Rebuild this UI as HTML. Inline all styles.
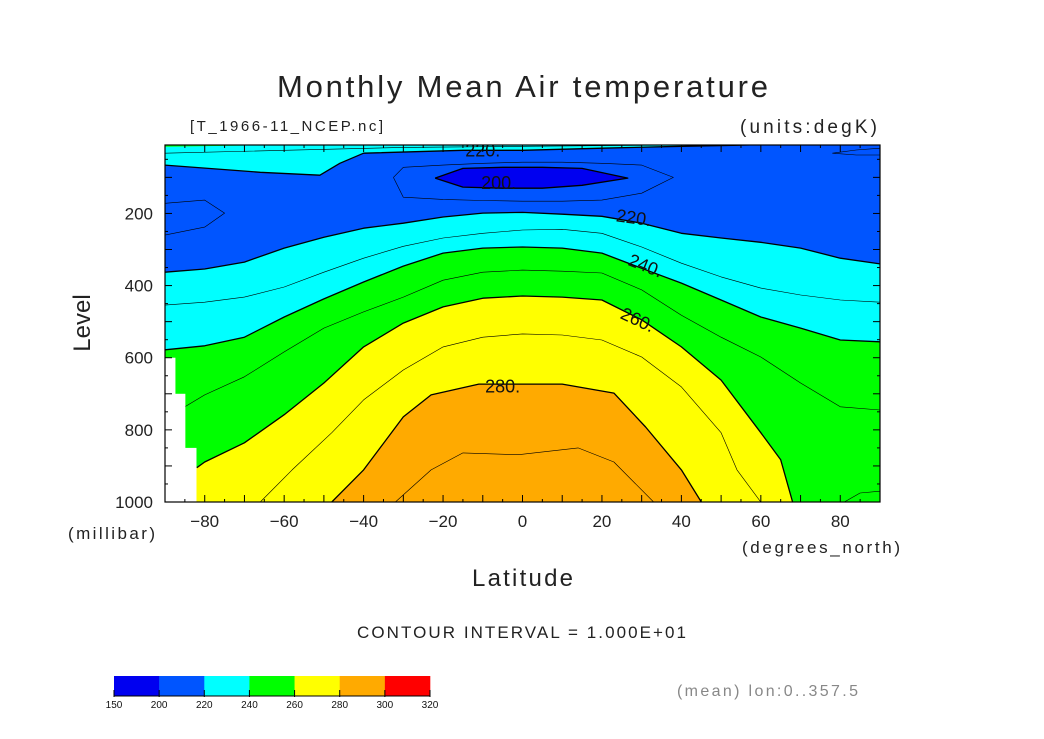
<!DOCTYPE html>
<html><head><meta charset="utf-8"><style>
html,body{margin:0;padding:0;background:#fff;}
svg{display:block;font-family:"Liberation Sans",sans-serif;}
</style></head><body>
<svg id="chart" width="1044" height="739" viewBox="0 0 1044 739" xmlns="http://www.w3.org/2000/svg">
<rect width="1044" height="739" fill="#fff"/>
<text x="277" y="97" font-size="31" fill="#222" textLength="491" lengthAdjust="spacing">Monthly Mean Air temperature</text>
<text x="190" y="131" font-size="15" fill="#222" textLength="193" lengthAdjust="spacing">[T_1966-11_NCEP.nc]</text>
<text x="740" y="133" font-size="19" fill="#222" textLength="137" lengthAdjust="spacing">(units:degK)</text>
<g id="plot"></g>
<text transform="translate(90,323) rotate(-90)" text-anchor="middle" font-size="24" fill="#222">Level</text>
<text x="68" y="539" font-size="17" fill="#222" textLength="87" lengthAdjust="spacing">(millibar)</text>
<text x="472" y="586" font-size="24" fill="#222" textLength="101" lengthAdjust="spacing">Latitude</text>
<text x="742" y="553" font-size="17" fill="#222" textLength="158" lengthAdjust="spacing">(degrees_north)</text>
<text x="357" y="638" font-size="17" fill="#222" textLength="329" lengthAdjust="spacing">CONTOUR INTERVAL = 1.000E+01</text>
<g id="cbar"></g>
<text x="677" y="696" font-size="16" fill="#888" textLength="181" lengthAdjust="spacing">(mean) lon:0..357.5</text>
</svg>
<script>
// ---- data (latitude in degrees_north, pressure in millibar) ----
const latFull = [-90,-80,-70,-60,-50,-40,-30,-20,-10,0,10,20,30,40,50,60,70,80,90];
const c220lower = [363,354,335,296,266,241,227,210,199,197,202,208,227,255,268,280,296,324,340];
const c230 = [454,446,432,404,363,324,291,268,255,246,244,255,293,338,376,407,426,440,446];
const c240 = [578,567,543,487,437,390,346,310,296,293,296,310,352,393,440,487,518,551,556];
const c250Lat = [-85,-80,-70,-60,-50,-40,-30,-20,-10,0,10,20,30,40,50,60,70,80,90];
const c250 = [736,703,653,584,518,473,432,385,363,357,360,365,412,482,543,598,670,736,745];
const c260Lat = [-82,-80,-70,-60,-50,-40,-30,-20,-10,0,10,20,30,40,50,60,65,68];
const c260 = [905,889,836,758,670,570,504,459,435,429,432,440,495,570,662,808,883,1000];
const c270Lat = [-66,-58,-48,-40,-30,-20,-10,0,10,20,30,40,50,54,60];
const c270 = [1000,911,808,717,634,570,543,534,537,551,598,681,808,911,1000];
const c280Lat = [-48,-40,-30,-23,-11,0,10,23,31,40,45];
const c280 = [1000,911,764,703,673,673,673,698,792,911,1000];
const c290Lat = [-32,-23,-15,-1,14,23,33];
const c290 = [1000,911,864,869,850,889,1000];
const c220upLat = [-90,-66,-51,-46,-40,-15,0,20,40,53,90];
const c220up = [66,86,94,61,33,25,25,19,14,11,0];
const c230topLat = [-90,-60,-30,0,30];
const c230top = [33,25,17,14,11];
const ov200Lat = [-22,-15,-5,5,15,26.5];
const ov200Top = [102,75,72,72,75,102];
const ov200Bot = [102,127,130,130,122,102];
const ov210Lat = [-32.5,-30,-20,-10,0,10,20,30,38];
const ov210Top = [100,72,66,61,58,58,61,66,100];
const ov210Bot = [100,155,161,164,166,166,163,144,100];
const left210Lat = [-90,-80,-75];
const left210Top = [172,163,199];
const left210Bot = [260,238,199];
const right210Lat = [78,84,90];
const right210Top = [33,24,19];
const right210Bot = [33,38,38];
const br250Lat = [81,85,90];
const br250 = [1000,975,970];
const missLat0 = [-90,-87.5,-85];
const missLat1 = [-87.5,-85,-82.2];
const missTop = [600,700,850];
const xTicks = [-80,-60,-40,-20,0,20,40,60,80];
const yTicks = [200,400,600,800,1000];
const cbLevels = [150,200,220,240,260,280,300,320];
const cbColors = ["#0000f0","#0055ff","#00ffff","#00ff00","#ffff00","#ffaa00","#ff0000"];
const labels = [
  {t:"220.",lat:-10,p:25,rot:0},{t:"200.",lat:-6,p:115,rot:0},
  {t:"220.",lat:28,p:212,rot:8},{t:"240.",lat:31,p:345,rot:22},
  {t:"260.",lat:29,p:495,rot:25},{t:"280.",lat:-5,p:680,rot:0}];

// ---- axis functions ----
const X0=165,X1=880,Y0=145,Y1=502;
const xS = lat => X0 + (lat+90)*(X1-X0)/180;
const yS = p => 141.3 + p*0.3607;
const NS="http://www.w3.org/2000/svg";
const plot=document.getElementById('plot');
function mk(tag,attrs,parent){const e=document.createElementNS(NS,tag);for(const k in attrs)e.setAttribute(k,attrs[k]);(parent||plot).appendChild(e);return e;}
function pts(lats,ps){return lats.map((l,i)=>xS(l).toFixed(1)+','+yS(ps[i]).toFixed(1));}

const defs=mk('defs',{});
const cp=mk('clipPath',{id:'clip'},defs);
mk('rect',{x:X0,y:Y0,width:X1-X0,height:Y1-Y0},cp);
const g=mk('g',{'clip-path':'url(#clip)'});

let e;
e=mk('rect',{x:X0,y:Y0,width:X1-X0,height:Y1-Y0,fill:'#00ffff'},g);


e=mk('polygon',{fill:'#0055ff',points:pts(c220upLat,c220up).concat(pts(latFull,c220lower).reverse()).join(' ')},g);


e=mk('polygon',{fill:'#00ff00',points:pts(latFull,c240).concat([xS(90)+','+yS(1010),xS(-90)+','+yS(1010)]).join(' ')},g);


e=mk('polygon',{fill:'#ffff00',points:[xS(-90)+','+yS(c260[0])].concat(pts(c260Lat,c260)).concat([xS(c260Lat[c260Lat.length-1])+','+yS(1010),xS(-90)+','+yS(1010)]).join(' ')},g);


e=mk('polygon',{fill:'#ffaa00',points:pts(c280Lat,c280).join(' ')},g);


e=mk('polygon',{fill:'#0000f0',points:pts(ov200Lat,ov200Top).concat(pts(ov200Lat,ov200Bot).reverse()).join(' ')},g);


e=mk('polygon',{fill:'#00ff00',points:[xS(-90)+','+yS(0),xS(-65)+','+yS(0),xS(-65)+','+yS(11),xS(-90)+','+yS(15)].join(' ')},g);



function line(lats,ps,w,name){
  const l=mk('polyline',{points:pts(lats,ps).join(' '),fill:'none',stroke:'#000','stroke-width':w,'stroke-linejoin':'round'},g);
  
  
}
function oval(lats,top,bot,w,name){line(lats.concat(lats.slice().reverse()),top.concat(bot.slice().reverse()),w,name);}
line(latFull,c220lower,1.3,'contour-220');
line(latFull,c230,0.6,'contour-230');
line(latFull,c240,1.3,'contour-240');
line(c250Lat,c250,0.6,'contour-250');
line(c260Lat,c260,1.3,'contour-260');
line(c270Lat,c270,0.6,'contour-270');
line(c280Lat,c280,1.3,'contour-280');
line(c290Lat,c290,0.6,'contour-290');
line(c220upLat,c220up,1.3,'contour-220-upper');
line(c230topLat,c230top,0.6,'contour-230-upper');
line(br250Lat,br250,0.6,'contour-250-corner');
oval(ov200Lat,ov200Top,ov200Bot,1.3,'contour-200');
oval(ov210Lat,ov210Top,ov210Bot,0.6,'contour-210');
oval(left210Lat,left210Top,left210Bot,0.6,'contour-210-left');
oval(right210Lat,right210Top,right210Bot,0.6,'contour-210-right');

missLat0.forEach((l,i)=>{
  const r=mk('rect',{x:xS(l),y:yS(missTop[i]),width:xS(missLat1[i])-xS(l)+0.5,height:Y1-yS(missTop[i])+2,fill:'#fff'},g);
  
  
});

labels.forEach(o=>{
  const t=mk('text',{x:xS(o.lat),y:yS(o.p)+6,'text-anchor':'middle','font-size':18,fill:'#111',transform:`rotate(${o.rot} ${xS(o.lat)} ${yS(o.p)})`},g);
  t.textContent=o.t;
  
  
});

e=mk('rect',{x:X0,y:Y0,width:X1-X0,height:Y1-Y0,fill:'none',stroke:'#000','stroke-width':1.2});



for(let lat=-90;lat<=90;lat+=5){
  const len = lat%10===0?7:3;
  const x=xS(lat);
  mk('line',{x1:x,y1:Y1,x2:x,y2:Y1-len,stroke:'#000','stroke-width':1});
  mk('line',{x1:x,y1:Y0,x2:x,y2:Y0+len,stroke:'#000','stroke-width':1});
}
for(let p=50;p<=1000;p+=50){
  const len = p%100===0?7:3;
  const y=yS(p);
  mk('line',{x1:X0,y1:y,x2:X0+len,y2:y,stroke:'#000','stroke-width':1});
  mk('line',{x1:X1,y1:y,x2:X1-len,y2:y,stroke:'#000','stroke-width':1});
}
xTicks.forEach(v=>{
  const t=mk('text',{x:xS(v),y:527,'text-anchor':'middle','font-size':17,fill:'#222'});
  t.textContent=v<0?'\u2212'+(-v):String(v);
  
  
});
yTicks.forEach(v=>{
  const t=mk('text',{x:153,y:yS(v)+6,'text-anchor':'end','font-size':17,fill:'#222'});
  t.textContent=String(v);
  
  
});

const cb=document.getElementById('cbar');
const CB0=114,CB1=430,n=cbColors.length,w=(CB1-CB0)/n;
cbColors.forEach((c,i)=>{
  const r=mk('rect',{x:CB0+i*w,y:676,width:w+0.3,height:20,fill:c},cb);
  
  
});
mk('line',{x1:CB0,y1:696,x2:CB1,y2:696,stroke:'#000','stroke-width':1},cb);
cbLevels.forEach((v,i)=>{
  const x=CB0+i*w;
  mk('line',{x1:x,y1:690,x2:x,y2:697,stroke:'#000','stroke-width':1},cb);
  const t=mk('text',{x:x,y:708,'text-anchor':'middle','font-size':10,fill:'#111'},cb);
  t.textContent=String(v);
  
  
});
</script>
</body></html>
